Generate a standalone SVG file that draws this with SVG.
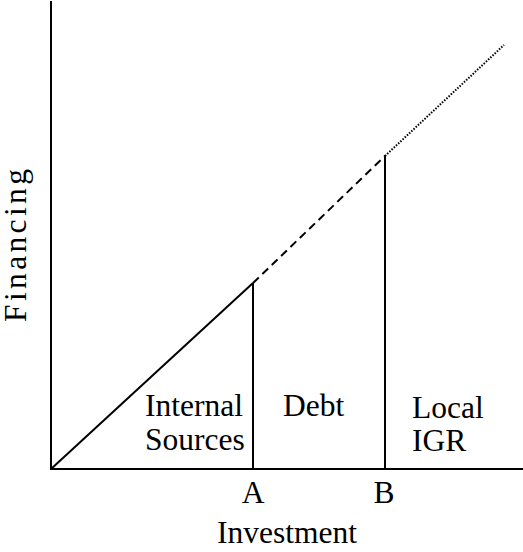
<svg xmlns="http://www.w3.org/2000/svg" width="523" height="552" viewBox="0 0 523 552">
<style>
.t{font-family:'Liberation Serif','Times New Roman','DejaVu Serif',serif;font-size:31.5px;fill:#000}
.l{stroke:#000;stroke-width:2;fill:none}
</style>
<rect width="523" height="552" fill="#fff"/>
<g id="connectors">
<line class="l" x1="51" y1="1" x2="51" y2="469"/>
<line class="l" x1="50" y1="469" x2="523" y2="469"/>
<line class="l" x1="51" y1="469" x2="253" y2="283"/>
<line class="l" x1="253" y1="283" x2="253" y2="469"/>
<line class="l" x1="253" y1="283" x2="385" y2="156" stroke-dasharray="8,5"/>
<line class="l" x1="385" y1="155" x2="385" y2="469"/>
<line class="l" x1="385" y1="156" x2="504" y2="45" stroke-width="1.5" stroke-dasharray="1.5,1.5"/>
</g>
<g id="internal"><text class="t" x="145" y="416">Internal</text><text class="t" x="145" y="450">Sources</text></g>
<g id="debt"><text class="t" x="283" y="416">Debt</text></g>
<g id="local"><text class="t" x="412" y="418">Local</text><text class="t" x="412" y="451">IGR</text></g>
<g id="a"><text class="t" x="253" y="503" text-anchor="middle">A</text></g>
<g id="b"><text class="t" x="384" y="503" text-anchor="middle">B</text></g>
<g id="investment"><text class="t" x="287" y="543" text-anchor="middle">Investment</text></g>
<g id="financing"><text class="t" transform="translate(26,245.5) rotate(-90)" text-anchor="middle" textLength="153" lengthAdjust="spacing">Financing</text></g>
</svg>
